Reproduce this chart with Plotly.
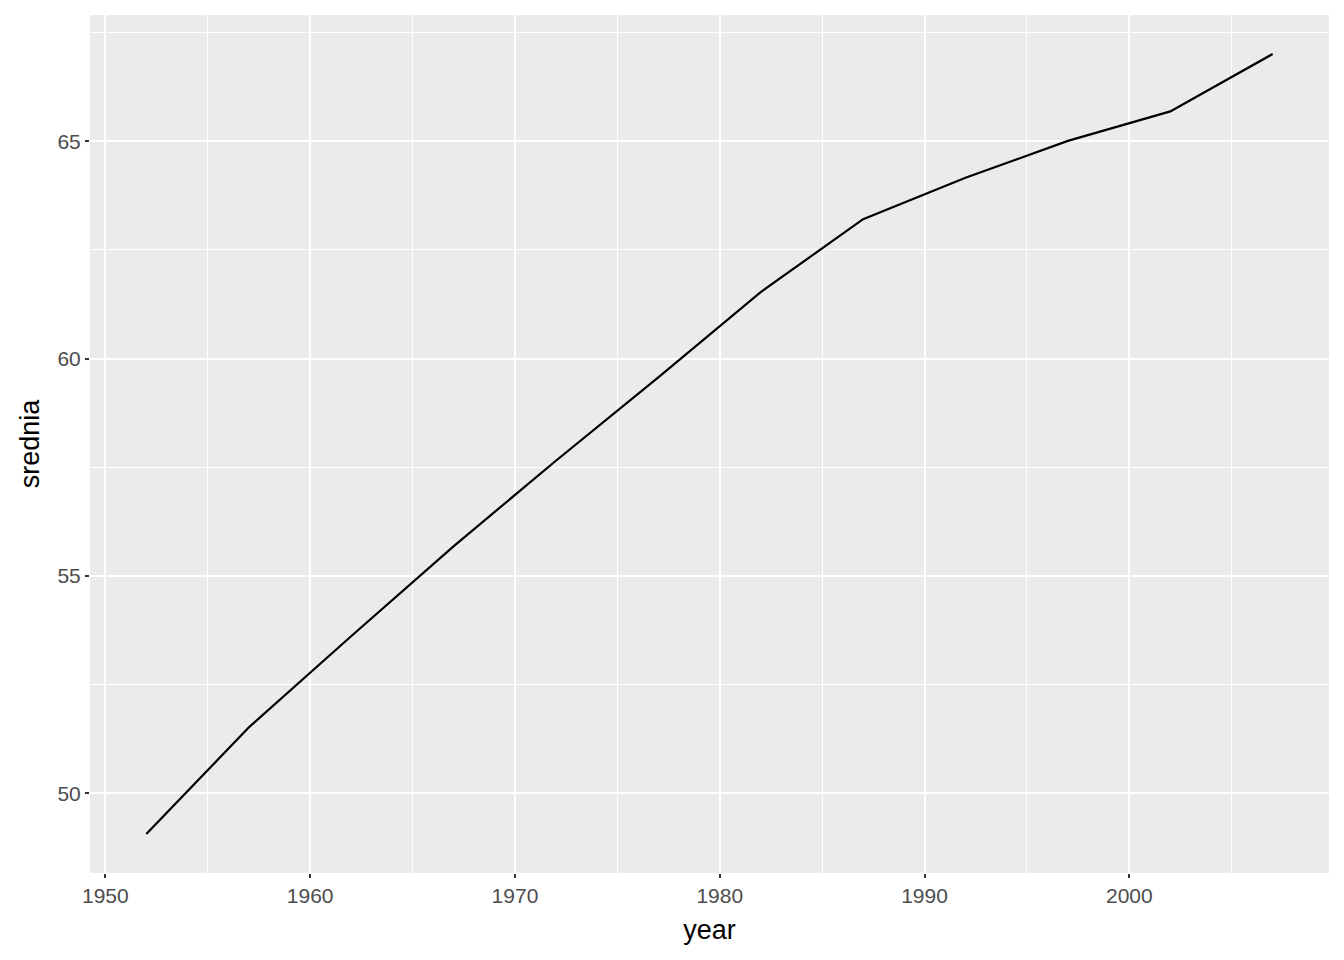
import plotly.graph_objects as go

# mean life expectancy per year
year = [1952, 1957, 1962, 1967, 1972, 1977, 1982, 1987, 1992, 1997, 2002, 2007]
srednia = [49.06, 51.51, 53.61, 55.68, 57.65, 59.57, 61.53, 63.21, 64.16, 65.01, 65.69, 67.01]

fig = go.Figure()
fig.add_scatter(x=year, y=srednia, mode="lines",
                line=dict(color="black", width=2.2), showlegend=False)

xpad = (max(year) - min(year)) * 0.05
ypad = (max(srednia) - min(srednia)) * 0.05

axis_common = dict(
    showgrid=True, gridcolor="white", gridwidth=2,
    zeroline=False, showline=False,
    ticks="outside", ticklen=4, tickwidth=2, tickcolor="#333333",
    tickfont=dict(family="Liberation Sans", size=21, color="#4D4D4D"),
    title_font=dict(family="Liberation Sans", size=27, color="black"),
)

fig.update_xaxes(
    range=[min(year) - xpad, max(year) + xpad],
    tick0=1950, dtick=10,
    minor=dict(tick0=1955, dtick=10, showgrid=True, gridcolor="white", gridwidth=1, ticks=""),
    title_text="year", title_standoff=13,
    **axis_common,
)
fig.update_yaxes(
    range=[min(srednia) - ypad, max(srednia) + ypad],
    tick0=50, dtick=5,
    minor=dict(tick0=52.5, dtick=5, showgrid=True, gridcolor="white", gridwidth=1, ticks=""),
    title_text="srednia", title_standoff=9,
    **axis_common,
)

# page body adds an 8px margin, so the figure is shrunk to fit the 1344x960 window
fig.update_layout(
    width=1336, height=952,
    margin=dict(l=82, r=15, t=7, b=87),
    plot_bgcolor="#EBEBEB", paper_bgcolor="white",
    font=dict(family="Liberation Sans"),
)

fig.write_html("out.html")
